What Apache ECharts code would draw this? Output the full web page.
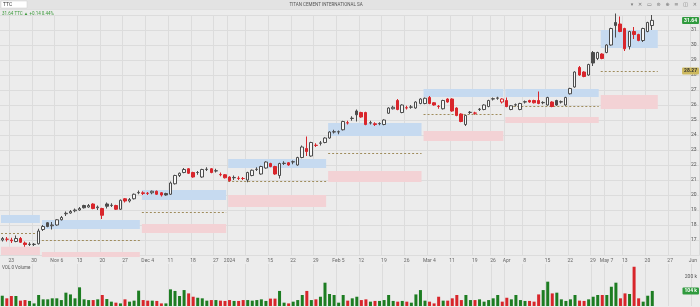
<!DOCTYPE html>
<html><head><meta charset="utf-8">
<script src="https://cdn.jsdelivr.net/npm/echarts@6/dist/echarts.min.js"></script>
<style>html,body{margin:0;padding:0;background:#ececec}#c{width:700px;height:307px}</style>
</head><body><div id="c"></div>
<script>
// ---------- calendar (Athens exchange trading days) ----------
const firstDay = '2023-10-19';
const dayCount = 154;
const holidays = ['2023-12-25','2023-12-26','2024-01-01','2024-03-18','2024-03-25','2024-03-29','2024-04-01','2024-05-01','2024-05-03','2024-05-06'];

// ---------- x tick labels ----------
const tickDates = ['2023-10-23','2023-10-30','2023-11-06','2023-11-13','2023-11-20','2023-11-27','2023-12-04','2023-12-11','2023-12-18','2023-12-27','2024-01-02','2024-01-08','2024-01-15','2024-01-22','2024-01-29','2024-02-05','2024-02-12','2024-02-19','2024-02-26','2024-03-04','2024-03-11','2024-03-19','2024-03-26','2024-04-02','2024-04-08','2024-04-15','2024-04-22','2024-04-29','2024-05-07','2024-05-13','2024-05-20','2024-05-27','2024-06-03'];
const tickLabels = ['23','30','Nov 6','13','20','27','Dec 4','11','18','27','2024','8','15','22','29','Feb 5','12','19','26','Mar 4','11','19','26','Apr','8','15','22','29','May 7','13','20','27','Jun'];

// ---------- daily OHLC ----------
const opens = [17.0,17.05,17.0,16.9,17.1,16.8,16.7,16.7,16.75,17.7,
18.15,17.95,18.0,18.35,18.75,18.8,18.95,19.0,19.3,19.2,19.4,19.15,19.1,19.4,19.3,19.3,19.05,19.75,19.6,19.75,20.15,20.1,20.1,20.15,20.25,20.15,20.1,20.05,20.75,21.3,21.5,21.75,21.5,21.5,21.2,21.7,21.75,21.6,
21.35,21.35,21.2,21.15,21.1,21.1,21.0,21.3,21.7,21.4,21.8,22.1,21.9,21.3,22.1,22.15,22.2,22.0,22.5,23.1,22.6,23.3,23.45,23.5,23.8,24.2,24.2,24.35,24.8,25.1,25.6,25.5,25.5,24.8,24.75,24.75,24.7,25.45,25.75,
26.3,25.5,25.8,25.85,25.8,26.1,26.1,26.5,26.15,25.9,25.75,26.4,26.4,25.8,25.4,24.7,25.5,25.45,25.7,25.7,25.9,26.4,26.45,26.2,26.3,25.7,26.0,25.7,26.2,26.3,26.3,26.3,26.15,26.0,26.2,26.3,26.2,26.0,
26.75,27.2,28.5,28.2,28.0,29.5,29.1,29.4,29.5,30.0,31.5,31.4,31.1,29.9,30.9,30.7,30.3,30.9,31.3];
const closes = [17.1,17.05,16.95,17.1,16.85,16.7,16.72,16.72,17.6,17.9,
17.9,18.0,18.35,18.5,18.78,18.9,19.0,19.1,19.15,19.3,19.1,19.2,18.65,19.25,19.32,19.05,19.65,19.6,19.7,20.05,20.17,20.15,20.12,20.25,20.05,20.0,20.0,20.8,21.3,21.45,21.7,21.45,21.2,21.5,21.7,21.72,21.5,21.62,
21.37,21.15,20.95,21.17,21.12,21.1,21.5,21.65,21.72,21.9,22.2,21.9,21.4,22.1,22.12,22.0,22.22,22.5,23.2,22.9,23.5,23.32,23.47,23.8,24.2,24.22,24.22,24.9,24.82,25.12,25.35,25.2,24.7,24.82,24.7,24.77,25.0,25.8,25.85,
25.7,26.0,25.82,25.87,26.2,26.4,26.45,26.1,26.0,25.92,26.3,26.2,25.6,25.3,24.9,25.3,25.52,25.47,25.72,26.0,26.3,26.42,26.47,26.4,25.9,25.95,26.02,26.1,26.22,26.2,26.15,26.1,26.17,26.5,25.9,26.0,26.22,26.5,
27.1,28.2,28.0,27.9,28.7,28.8,29.5,29.1,30.0,31.1,31.3,30.9,29.75,30.9,30.7,30.3,31.1,31.5,31.64];
const lows = [16.9,16.9,16.8,16.85,16.8,16.55,16.6,16.6,16.7,17.6,
17.85,17.7,17.95,18.3,18.6,18.75,18.85,18.95,19.1,19.15,19.05,19.0,18.4,19.1,19.2,19.0,19.0,19.5,19.5,19.7,20.05,20.0,20.0,20.05,20.0,19.9,19.95,20.0,20.7,21.2,21.45,21.4,21.15,21.35,21.15,21.6,21.45,21.5,
21.25,21.1,20.9,21.0,21.0,21.0,20.85,21.25,21.6,21.35,21.75,21.85,21.35,21.1,22.0,21.95,22.05,21.95,22.45,22.6,22.55,23.2,23.3,23.45,23.75,24.1,24.05,24.3,24.7,24.95,24.9,25.15,24.65,24.7,24.6,24.65,24.65,25.4,25.7,
25.65,25.45,25.7,25.75,25.75,26.05,26.05,26.05,25.95,25.75,25.7,26.15,25.55,25.25,24.85,24.6,25.4,25.35,25.6,25.65,25.85,26.3,26.35,26.1,25.85,25.65,25.9,25.65,26.1,26.15,26.1,26.05,26.05,25.95,25.85,25.95,26.1,25.95,
26.7,27.15,27.95,27.85,27.95,28.6,29.0,29.05,29.45,29.95,30.5,30.85,29.6,29.7,30.4,30.25,30.2,30.85,31.0];
const highs = [17.2,17.2,17.15,17.3,17.2,16.9,16.85,16.8,17.75,18.0,
18.2,18.2,18.4,18.6,18.9,19.0,19.1,19.2,19.35,19.4,19.45,19.3,19.15,19.5,19.45,19.35,19.7,19.8,19.8,20.1,20.3,20.25,20.2,20.3,20.3,20.2,20.15,20.9,21.35,21.5,21.8,21.8,21.55,21.6,21.75,21.85,21.8,21.75,
21.5,21.4,21.25,21.3,21.25,21.2,21.55,21.7,21.85,21.95,22.25,22.15,21.95,22.15,22.25,22.2,22.3,22.55,23.3,23.9,23.55,23.45,23.6,23.85,24.25,24.35,24.3,24.95,24.95,25.25,25.7,25.55,25.55,24.95,24.85,24.85,25.05,25.85,25.95,
26.4,26.05,25.95,26.0,26.25,26.45,26.5,26.6,26.2,26.0,26.35,26.45,26.45,25.85,25.45,25.35,25.6,25.55,25.8,26.05,26.35,26.5,26.55,26.45,26.5,26.0,26.1,26.15,26.3,26.35,26.35,26.9,26.25,26.55,26.25,26.35,26.3,26.55,
27.15,28.25,28.6,28.25,28.75,29.6,29.55,29.45,30.05,31.15,32.1,31.9,31.15,30.95,31.2,30.75,31.15,31.55,32.0];
const volumes = [71,53,69,69,37,41,35,18,76,46,
46,53,53,41,92,80,53,129,46,41,41,46,76,48,30,23,18,46,30,37,106,41,37,37,35,18,18,115,104,69,110,87,64,57,53,37,41,41,
37,35,41,35,35,41,41,37,41,46,35,51,51,104,23,18,30,41,76,104,41,46,64,161,83,76,23,76,37,53,64,41,46,30,35,35,41,76,35,
30,35,30,23,80,110,37,30,18,64,37,37,53,76,41,76,41,41,46,30,41,53,76,30,57,46,76,41,35,35,30,80,110,168,87,92,46,35,
46,76,37,35,46,64,76,76,76,133,161,53,87,83,271,53,30,71,104]; // thousands

// ---------- monthly zones ----------
const zoneStart = ['2023-10-19','2023-11-01','2023-12-01','2024-01-02','2024-02-01','2024-03-01','2024-04-02','2024-05-02'];
const zoneEnd   = ['2023-10-31','2023-11-30','2023-12-29','2024-01-31','2024-02-29','2024-03-28','2024-04-30','2024-05-22'];
const blueLow   = [18.13,17.73,19.67,21.8,23.93,26.53,26.53,29.8];
const blueHigh  = [18.67,18.33,20.33,22.4,24.8,27.07,27.07,31.0];
const midLevel  = [17.47,17.0,18.87,20.93,22.8,25.4,25.93,28.27];
const redLow    = [16.0,15.87,17.47,19.2,20.87,23.6,24.8,25.73];
const redHigh   = [16.55,16.2,18.07,20.0,21.6,24.27,25.2,26.67];

// ---------- build ----------
const dates = [];
(function(){
  const d = new Date(firstDay + 'T00:00:00Z');
  while (dates.length < dayCount) {
    const wd = d.getUTCDay();
    const s = d.toISOString().slice(0,10);
    if (wd !== 0 && wd !== 6 && holidays.indexOf(s) < 0) dates.push(s);
    d.setUTCDate(d.getUTCDate() + 1);
  }
})();
const tickSet = new Set(tickDates);
const labelMap = {}; tickDates.forEach((d,i)=>labelMap[d]=tickLabels[i]);

const RED = '#d9262c', DARK = '#4d4d4d', HOLLOW = '#f6f6f6', VGREEN = '#1d7d22', VRED = '#d8262b';
const candleData = opens.map((o,i)=>{
  const c = closes[i], prev = i>0 ? closes[i-1] : o;
  const edge = c >= prev ? DARK : RED;
  const fill = c >= o ? HOLLOW : edge;
  return {value:[o,c,lows[i],highs[i]], itemStyle:{color:fill,color0:fill,borderColor:edge,borderColor0:edge}};
});
const volData = volumes.map((v,i)=>{
  const prev = i>0 ? closes[i-1] : opens[i];
  return {value:v*1000, itemStyle:{color: closes[i] >= prev ? VGREEN : VRED}};
});
const zIdx = zoneStart.map((s,i)=>[dates.indexOf(s), dates.indexOf(zoneEnd[i])]);
const blueData = zIdx.map((z,i)=>[z[0],z[1],blueLow[i],blueHigh[i]]);
const redData = zIdx.map((z,i)=>[z[0],z[1],redLow[i],redHigh[i]]);
const midData = zIdx.map((z,i)=>[z[0],z[1],midLevel[i]]);
const lastI = closes.length-1;
const lastClose = closes[lastI];
const chg = lastClose - closes[lastI-1];

function rectRender(fill){
  return function(params, api){
    const a = api.coord([api.value(0), api.value(3)]);
    const b = api.coord([api.value(1), api.value(2)]);
    const bw = api.size([1,0])[0];
    return {type:'rect', shape:{x:a[0]-bw/2+1, y:a[1], width:b[0]-a[0]+bw-2, height:b[1]-a[1]}, style:{fill:fill}};
  };
}
function tagRender(bg, fg, text){
  return function(params, api){
    const p = api.coord([api.value(0), api.value(1)]);
    return {type:'text', style:{text:text, x:api.getWidth()-1, y:p[1], align:'right', verticalAlign:'middle',
      fill:fg, font:'bold 5px Roboto', backgroundColor:bg, padding:[1,2,1,2], borderRadius:1}};
  };
}

const gridColor = '#dcdcdc';
const xBase = {type:'category', data:dates, boundaryGap:true, axisLine:{show:false}, axisTick:{show:false},
  splitLine:{show:true, interval:(i,v)=>tickSet.has(v), lineStyle:{color:gridColor,width:1}}};

const chart = echarts.init(document.getElementById('c'));
chart.setOption({
  backgroundColor:'#ececec',
  animation:false,
  grid:[{left:0,right:0,top:15,height:240},{left:0,right:0,top:264,height:42}],
  xAxis:[
    Object.assign({}, xBase, {gridIndex:0, axisLabel:{interval:(i,v)=>tickSet.has(v), formatter:v=>labelMap[v]||'', fontSize:5, color:'#666', margin:3, fontFamily:'Roboto'}}),
    Object.assign({}, xBase, {gridIndex:1, axisLabel:{show:false}})
  ],
  yAxis:[
    {gridIndex:0, position:'right', min:16, max:32, interval:1, axisLine:{show:false}, axisTick:{show:false},
     axisLabel:{inside:true, margin:3, fontSize:5, color:'#555', fontFamily:'Roboto', formatter:v=>(v>16&&v<32)?String(v):''},
     splitLine:{show:true, lineStyle:{color:gridColor,width:1}}},
    {gridIndex:1, position:'right', min:0, max:290000, interval:100000, axisLine:{show:false}, axisTick:{show:false},
     axisLabel:{inside:true, margin:3, fontSize:5, color:'#555', fontFamily:'Roboto', formatter:v=>v===200000?'200 k':''},
     splitLine:{show:false}}
  ],
  series:[
    {type:'custom', xAxisIndex:0, yAxisIndex:0, renderItem:rectRender('#c6daf0'), data:blueData, encode:{x:[0,1],y:[2,3]}, z:1, silent:true},
    {type:'custom', xAxisIndex:0, yAxisIndex:0, renderItem:rectRender('#f3d2d5'), data:redData, encode:{x:[0,1],y:[2,3]}, z:1, silent:true},
    {type:'custom', xAxisIndex:0, yAxisIndex:0, data:midData, encode:{x:[0,1],y:2}, z:1, silent:true,
     renderItem:function(params, api){
       const a = api.coord([api.value(0), api.value(2)]);
       const b = api.coord([api.value(1), api.value(2)]);
       const bw = api.size([1,0])[0];
       const y = Math.round(a[1])+0.5;
       return {type:'line', shape:{x1:a[0]-bw/2+1, y1:y, x2:b[0]+bw/2-1, y2:y}, style:{stroke:'#9f8c5c', lineWidth:1, lineDash:[2,2]}};
     }},
    {type:'candlestick', xAxisIndex:0, yAxisIndex:0, data:candleData, barWidth:3, clip:false, z:3},
    {type:'bar', xAxisIndex:1, yAxisIndex:1, data:volData, barWidth:3, z:3},
    {type:'custom', xAxisIndex:0, yAxisIndex:0, data:[[lastI, lastClose]], encode:{x:0,y:1}, z:10,
     renderItem:tagRender('#2f9a3d','#ffffff', lastClose.toFixed(2))},
    {type:'custom', xAxisIndex:0, yAxisIndex:0, data:[[zIdx[zIdx.length-1][1], midLevel[midLevel.length-1]]], encode:{x:0,y:1}, z:10,
     renderItem:tagRender('#cdb95e','#333333', midLevel[midLevel.length-1].toFixed(2))},
    {type:'custom', xAxisIndex:1, yAxisIndex:1, data:[[lastI, volumes[lastI]*1000]], encode:{x:0,y:1}, z:10,
     renderItem:tagRender('#2f9a3d','#ffffff', volumes[lastI]+' k')}
  ],
  graphic:[
    {type:'rect', shape:{x:0,y:0,width:700,height:9}, style:{fill:'#e3e3e3'}, z:20},
    {type:'rect', shape:{x:0,y:9,width:700,height:0.6}, style:{fill:'#d2d2d2'}, z:20},
    {type:'rect', shape:{x:1,y:1,width:26,height:7}, style:{fill:'#ffffff', stroke:'#cfcfcf', lineWidth:0.5}, z:21},
    {type:'text', style:{text:'TTC', x:3, y:4.5, verticalAlign:'middle', font:'5px Roboto', fill:'#333'}, z:22},
    {type:'text', style:{text:'TITAN CEMENT INTERNATIONAL SA', x:326, y:4.5, align:'center', verticalAlign:'middle', font:'4.5px Roboto', fill:'#555'}, z:22},
    {type:'text', style:{text:'▾   ✕   ▭   ⊜   ⊕   ≡   ◫   ✕', x:697, y:4.5, align:'right', verticalAlign:'middle', font:'5px DejaVu Sans', fill:'#777'}, z:22},
    {type:'text', style:{text:lastClose.toFixed(2)+' TTC ▲ +'+chg.toFixed(2)+' '+(chg/closes[lastI-1]*100).toFixed(2)+'%', x:2, y:14, verticalAlign:'middle', font:'4.5px Roboto', fill:'#3c9a3c'}, z:22},
    {type:'text', style:{text:'VOL 0 Volume', x:2, y:268, verticalAlign:'middle', font:'4.5px Roboto', fill:'#555'}, z:22}
  ]
});
</script></body></html>
